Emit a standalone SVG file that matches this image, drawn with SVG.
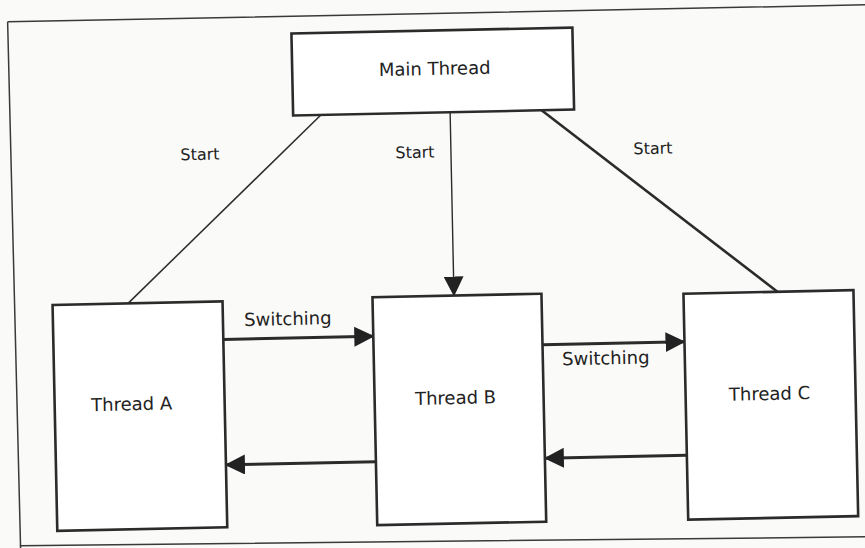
<svg xmlns="http://www.w3.org/2000/svg" width="865" height="548" viewBox="0 0 865 548">
  <style>
    .box { fill: #ffffff; stroke: #2b2b2b; stroke-width: 2.6; }
    .lbl { font-family: "DejaVu Sans", "Liberation Sans", sans-serif; font-size: 18px; fill: #222; text-anchor: middle; }
    .sm { font-size: 16px; }
    .frame { fill: none; stroke: #3a3a3a; stroke-width: 1.5; }
    .sw { stroke: #2b2b2b; stroke-width: 3; fill: none; }
    .st { stroke: #2b2b2b; fill: none; }
  </style>
  <defs>
    <marker id="ah" markerUnits="userSpaceOnUse" markerWidth="20" markerHeight="20" refX="19" refY="10" orient="auto" viewBox="0 0 20 20">
      <path d="M0,0 L20,10 L0,20 z" fill="#222"/>
    </marker>
  </defs>
  <rect width="865" height="548" fill="#fafaf8"/>
  <g transform="rotate(-1.2 432 274)">
    <g id="frame">
      <path class="frame" d="M13,13 L875,14 M13,13 L15,560 M14,537 L875,546"/>
    </g>
    <g id="connectors">
      <line class="st" stroke-width="1.5" x1="325" y1="112" x2="127.5" y2="297"/>
      <line class="st" stroke-width="1.4" x1="453.5" y1="112.6" x2="453.5" y2="296" marker-end="url(#ah)"/>
      <line class="st" stroke-width="2.6" x1="545" y1="112.6" x2="777" y2="299"/>
      <line class="sw" x1="222" y1="335" x2="372" y2="335" marker-end="url(#ah)"/>
      <line class="sw" x1="372" y1="460.5" x2="222" y2="460.5" marker-end="url(#ah)"/>
      <line class="sw" x1="541" y1="347" x2="683" y2="347" marker-end="url(#ah)"/>
      <line class="sw" x1="683" y1="460.5" x2="541" y2="460.5" marker-end="url(#ah)"/>
      <text class="lbl sm" x="202.5" y="155">Start</text>
      <text class="lbl sm" x="417.5" y="157.5">Start</text>
      <text class="lbl sm" x="655.5" y="158.5">Start</text>
      <text class="lbl" x="287" y="322">Switching</text>
      <text class="lbl" x="604" y="368">Switching</text>
    </g>
    <g id="main">
      <rect class="box" x="296.5" y="30.6" width="281" height="82"/>
      <text class="lbl" x="439" y="75">Main Thread</text>
    </g>
    <g id="threadA">
      <rect class="box" x="52" y="297" width="170" height="226"/>
      <text class="lbl" x="129" y="404">Thread A</text>
    </g>
    <g id="threadB">
      <rect class="box" x="372" y="296" width="169" height="228"/>
      <text class="lbl" x="453" y="404.5">Thread B</text>
    </g>
    <g id="threadC">
      <rect class="box" x="683" y="299" width="170" height="226"/>
      <text class="lbl" x="767" y="407">Thread C</text>
    </g>
  </g>
</svg>
